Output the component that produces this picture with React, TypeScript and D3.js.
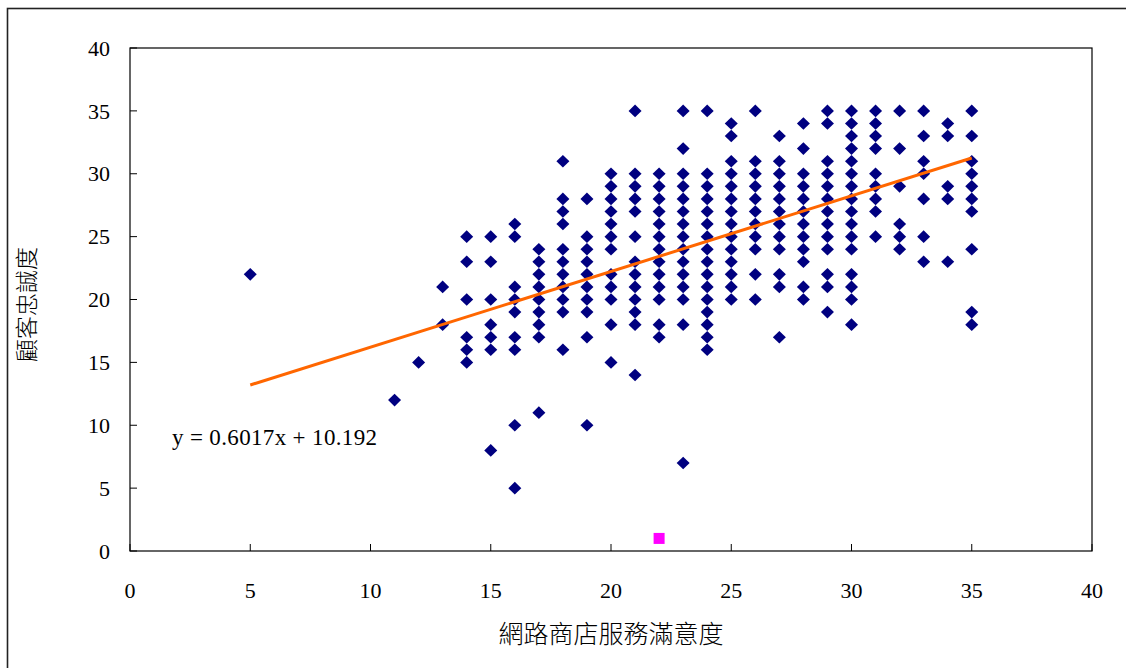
import React from "react";
import * as d3 from "d3";

// Web-store service satisfaction (x) columns and customer loyalty (y) values per column
const satisfaction = [5, 11, 12, 13, 14, 15, 16, 17, 18, 19, 20, 21, 22, 23, 24, 25, 26, 27, 28, 29, 30, 31, 32, 33, 34, 35];
const loyaltyByColumn: number[][] = [
  [22],
  [12],
  [15],
  [21, 18],
  [25, 23, 20, 17, 16, 15],
  [25, 23, 20, 18, 17, 16, 8],
  [26, 25, 21, 20, 19, 17, 16, 10, 5],
  [24, 23, 22, 21, 20, 19, 18, 17, 11],
  [31, 28, 27, 26, 24, 23, 22, 21, 20, 19, 16],
  [28, 25, 24, 23, 22, 21, 20, 19, 17, 10],
  [30, 29, 28, 27, 26, 25, 24, 22, 21, 20, 18, 15],
  [35, 30, 29, 28, 27, 25, 23, 22, 21, 20, 19, 18, 14],
  [30, 29, 28, 27, 26, 25, 24, 23, 22, 21, 20, 18, 17],
  [35, 32, 30, 29, 28, 27, 26, 25, 24, 23, 22, 21, 20, 18, 7],
  [35, 30, 29, 28, 27, 26, 25, 24, 23, 22, 21, 20, 19, 18, 17, 16],
  [34, 33, 31, 30, 29, 28, 27, 26, 25, 24, 23, 22, 21, 20],
  [35, 31, 30, 29, 28, 27, 26, 25, 24, 22, 20],
  [33, 31, 30, 29, 28, 27, 26, 25, 24, 22, 21, 17],
  [34, 32, 30, 29, 28, 27, 26, 25, 24, 23, 21, 20],
  [35, 34, 31, 30, 29, 28, 27, 26, 25, 24, 22, 21, 19],
  [35, 34, 33, 32, 31, 30, 29, 28, 27, 26, 25, 24, 22, 21, 20, 18],
  [35, 34, 33, 32, 30, 29, 28, 27, 25],
  [35, 32, 29, 26, 25, 24],
  [35, 33, 31, 30, 28, 25, 23],
  [34, 33, 29, 28, 23],
  [35, 33, 31, 30, 29, 28, 27, 24, 19, 18],
];
const highlightX = [22];
const highlightY = [1];

const trendSlope = 0.6017;
const trendIntercept = 10.192;
const trendRange = [5, 35];
const equationLabel = "y = 0.6017x + 10.192";

const xTicks = [0, 5, 10, 15, 20, 25, 30, 35, 40];
const yTicks = [0, 5, 10, 15, 20, 25, 30, 35, 40];
const xTitle = "網路商店服務滿意度";
const yTitle = "顧客忠誠度";

const W = 1126;
const H = 668;
const plot = { left: 130, top: 48, right: 1092, bottom: 551 };
const numFont = "'Liberation Serif', 'Times New Roman', serif";
const cjkFont = "'Noto Sans CJK TC', 'Noto Sans CJK SC', sans-serif";

export default function App() {
  const x = d3.scaleLinear().domain([0, 40]).range([plot.left, plot.right]);
  const y = d3.scaleLinear().domain([0, 40]).range([plot.bottom, plot.top]);

  const points: { x: number; y: number }[] = [];
  satisfaction.forEach((sx, i) => {
    loyaltyByColumn[i].forEach((v) => points.push({ x: sx, y: v }));
  });

  const diamond = "M0,-6.3 L6.5,0 L0,6.3 L-6.5,0 Z";
  const trendLine = d3
    .line<number>()
    .x((d) => x(d))
    .y((d) => y(trendSlope * d + trendIntercept));

  return (
    <svg
      width={W}
      height={H}
      style={{ position: "absolute", left: 0, top: 0, background: "#fff" }}
    >
      <rect x={0} y={0} width={W} height={H} fill="#fff" />
      <rect x={7.5} y={8.5} width={1130} height={700} fill="none" stroke="#222" strokeWidth={1.6} />
      <rect
        x={plot.left}
        y={plot.top}
        width={plot.right - plot.left}
        height={plot.bottom - plot.top}
        fill="none"
        stroke="#000"
        strokeWidth={1.2}
      />
      {xTicks.map((t) => (
        <g key={"xt" + t}>
          <line x1={x(t)} x2={x(t)} y1={plot.bottom} y2={plot.bottom - 7} stroke="#000" strokeWidth={1} />
          <text x={x(t)} y={598} textAnchor="middle" fontFamily={numFont} fontSize={22} fill="#000">
            {t}
          </text>
        </g>
      ))}
      {yTicks.map((t) => (
        <g key={"yt" + t}>
          <line x1={plot.left} x2={plot.left + 7} y1={y(t)} y2={y(t)} stroke="#000" strokeWidth={1} />
          <text
            x={110}
            y={y(t)}
            dy="0.35em"
            textAnchor="end"
            fontFamily={numFont}
            fontSize={22}
            fill="#000"
          >
            {t}
          </text>
        </g>
      ))}
      {points.map((p, i) => (
        <path key={"p" + i} d={diamond} transform={`translate(${x(p.x)},${y(p.y)})`} fill="#000080" />
      ))}
      {highlightX.map((hx, i) => (
        <rect
          key={"h" + i}
          x={x(hx) - 5.5}
          y={y(highlightY[i]) - 5.5}
          width={11}
          height={11}
          fill="#FF00FF"
        />
      ))}
      <path d={trendLine(trendRange) || ""} fill="none" stroke="#FF6600" strokeWidth={3} />
      <text
        x={172}
        y={445}
        fontFamily={numFont}
        fontSize={23}
        textLength={205}
        lengthAdjust="spacing"
        fill="#000"
      >
        {equationLabel}
      </text>
      <text
        x={(plot.left + plot.right) / 2}
        y={643}
        textAnchor="middle"
        fontFamily={cjkFont}
        fontSize={25}
        fontWeight={300}
        fill="#000"
      >
        {xTitle}
      </text>
      <text
        transform={`translate(35,${(plot.top + plot.bottom) / 2 + 5}) rotate(-90)`}
        textAnchor="middle"
        fontFamily={cjkFont}
        fontSize={23}
        fontWeight={300}
        fill="#000"
      >
        {yTitle}
      </text>
    </svg>
  );
}
